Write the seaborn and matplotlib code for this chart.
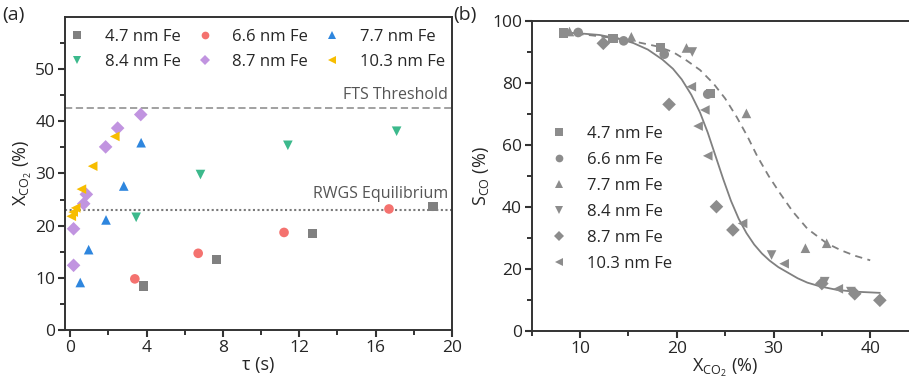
import pandas as pd
import matplotlib
matplotlib.use("Agg")
import matplotlib.pyplot as plt
import seaborn as sns

# ---------- data ----------
sizes = ["4.7 nm Fe", "6.6 nm Fe", "7.7 nm Fe", "8.4 nm Fe", "8.7 nm Fe", "10.3 nm Fe"]

# (a) conversion vs residence time
tau_47 = [3.83, 7.66, 12.7, 19.0]
xco2_47 = [8.4, 13.5, 18.5, 23.7]
tau_66 = [3.38, 6.7, 11.2, 16.7]
xco2_66 = [9.8, 14.7, 18.7, 23.2]
tau_77 = [0.52, 0.96, 1.87, 2.8, 3.71]
xco2_77 = [9.1, 15.4, 21.1, 27.6, 35.9]
tau_84 = [3.45, 6.82, 11.4, 17.1]
xco2_84 = [21.6, 29.8, 35.4, 38.1]
tau_87 = [0.17, 0.17, 0.7, 0.84, 1.85, 2.48, 3.69]
xco2_87 = [12.4, 19.4, 24.2, 26.0, 35.1, 38.7, 41.3]
tau_103 = [0.05, 0.15, 0.28, 0.58, 1.17, 2.33]
xco2_103 = [21.8, 22.6, 23.4, 27.0, 31.4, 37.1]

fts_threshold = 42.5
rwgs_equilibrium = 23.0

# (b) CO selectivity vs conversion
xb_47 = [8.3, 13.4, 18.3, 23.5]
sco_47 = [96.2, 94.4, 91.5, 76.6]
xb_66 = [9.8, 14.5, 18.7, 23.2]
sco_66 = [96.3, 93.6, 89.3, 76.4]
xb_77 = [8.9, 15.3, 21.0, 27.2, 33.3, 35.5]
sco_77 = [96.6, 94.9, 91.3, 70.2, 26.7, 28.3]
xb_84 = [21.6, 29.8, 35.3, 38.0]
sco_84 = [90.0, 24.5, 15.9, 12.7]
xb_87 = [12.4, 19.2, 24.1, 25.8, 35.0, 38.4, 41.0]
sco_87 = [92.8, 73.1, 40.1, 32.6, 15.3, 12.0, 9.9]
xb_103 = [21.5, 22.2, 22.9, 23.2, 26.8, 31.1, 36.7]
sco_103 = [78.8, 66.1, 71.3, 56.5, 34.7, 21.7, 13.6]

# curves
fit_solid_x = [8.3, 10, 12, 14, 15.5, 17, 18.5, 19.6, 20.5, 21.5, 22.4, 23.2, 24.0, 24.8,
               25.6, 26.4, 27.2, 28.0, 28.8, 29.6, 30.5, 31.5, 32.5, 33.5, 34.8, 36.5, 38.3, 41]
fit_solid_y = [96.3, 96.0, 95.5, 94.3, 92.9, 90.8, 87.6, 84.6, 81.2, 76.2, 70.5, 64.0, 56.5, 49.0,
               42.0, 36.2, 31.6, 27.9, 25.0, 22.7, 20.6, 18.8, 17.0, 15.6, 14.4, 13.3, 12.7, 12.3]
fit_dash_x = [8.3, 11.4, 14, 16.2, 18, 19.6, 21, 22.4, 23.8, 25, 26.2, 27.3,
              28.3, 29.5, 30.7, 32, 33.5, 35.5, 37, 38.5, 40]
fit_dash_y = [96.3, 95.3, 94.3, 93.0, 91.8, 90.0, 87.3, 84.2, 79.8, 75.0, 69.0, 62.8,
              56.5, 50.0, 44.3, 38.5, 33.0, 28.3, 26.0, 24.2, 22.8]

colors = ["#808080", "#f4726f", "#2e86de", "#3cb98c", "#c194e0", "#f7bd00"]
markers = ["s", "o", "^", "v", "D", "<"]

df_a = pd.DataFrame({
    "tau": tau_47 + tau_66 + tau_77 + tau_84 + tau_87 + tau_103,
    "x": xco2_47 + xco2_66 + xco2_77 + xco2_84 + xco2_87 + xco2_103,
    "size": [sizes[0]] * len(tau_47) + [sizes[1]] * len(tau_66) + [sizes[2]] * len(tau_77)
            + [sizes[3]] * len(tau_84) + [sizes[4]] * len(tau_87) + [sizes[5]] * len(tau_103),
})
df_b = pd.DataFrame({
    "x": xb_47 + xb_66 + xb_77 + xb_84 + xb_87 + xb_103,
    "s": sco_47 + sco_66 + sco_77 + sco_84 + sco_87 + sco_103,
    "size": [sizes[0]] * len(xb_47) + [sizes[1]] * len(xb_66) + [sizes[2]] * len(xb_77)
            + [sizes[3]] * len(xb_84) + [sizes[4]] * len(xb_87) + [sizes[5]] * len(xb_103),
})

# ---------- style ----------
sns.set_style("ticks")
plt.rcParams["font.family"] = ["Open Sans", "DejaVu Sans"]
plt.rcParams["mathtext.fontset"] = "custom"
plt.rcParams["mathtext.rm"] = "Open Sans"
plt.rcParams["mathtext.it"] = "Open Sans"
plt.rcParams["mathtext.bf"] = "Open Sans"
plt.rcParams["font.size"] = 12
spine_c = "#333333"

fig = plt.figure(figsize=(9.09, 3.80), dpi=100)
ax1 = fig.add_axes([0.0715, 0.1316, 0.4257, 0.8237])
ax2 = fig.add_axes([0.585, 0.129, 0.4255, 0.8157])

# ---------- (a) ----------
sns.scatterplot(data=df_a, x="tau", y="x", hue="size", style="size",
                hue_order=sizes, style_order=sizes,
                palette=dict(zip(sizes, colors)), markers=dict(zip(sizes, markers)),
                s=48, linewidth=0, ax=ax1, zorder=3)
ax1.axhline(fts_threshold, color="#9a9a9a", lw=1.3, ls=(0, (4, 2)), zorder=1)
ax1.axhline(rwgs_equilibrium, color="#7a7a7a", lw=1.5, ls=(0, (1, 1.2)), zorder=1)
ax1.text(19.8, fts_threshold + 1.0, "FTS Threshold", ha="right", va="bottom",
         fontsize=11.5, color="#555555")
ax1.text(19.8, rwgs_equilibrium + 1.6, "RWGS Equilibrium", ha="right", va="bottom",
         fontsize=11.5, color="#555555")
ax1.set_xlim(-0.28, 20)
ax1.set_ylim(0, 60)
ax1.set_xlabel("τ (s)", fontsize=13, labelpad=0)
ax1.set_ylabel(r"X$_{\mathrm{CO_2}}$ (%)", fontsize=13, labelpad=1)
h, l = ax1.get_legend_handles_labels()
order = [0, 3, 1, 4, 2, 5]  # fill rows first
ax1.legend([h[i] for i in order], [l[i] for i in order], ncol=3, frameon=False,
           loc="upper left", bbox_to_anchor=(-0.012, 0.983), borderaxespad=0,
           fontsize=12, handlelength=1.2, handletextpad=1.05, columnspacing=0.85,
           labelspacing=0.56, markerscale=0.8)

# ---------- (b) ----------
sns.scatterplot(data=df_b, x="x", y="s", style="size", style_order=sizes,
                markers=dict(zip(sizes, markers)), color="#8c8c8c",
                s=48, linewidth=0, ax=ax2, zorder=3)
ax2.plot(fit_solid_x, fit_solid_y, color="#808080", lw=1.3, zorder=2)
ax2.plot(fit_dash_x, fit_dash_y, color="#808080", lw=1.3, ls=(0, (4, 3)), zorder=2)
ax2.set_xlim(5, 45)
ax2.set_ylim(0, 100)
ax2.set_xlabel(r"X$_{\mathrm{CO_2}}$ (%)", fontsize=13, labelpad=0)
ax2.set_ylabel(r"S$_{\mathrm{CO}}$ (%)", fontsize=13, labelpad=1)
h, l = ax2.get_legend_handles_labels()
ax2.legend(h, l, frameon=False, loc="upper left", bbox_to_anchor=(0.011, 0.684),
           borderaxespad=0, fontsize=12, handlelength=2.0, handletextpad=0.68,
           labelspacing=0.6, markerscale=0.8)

ax2.spines["right"].set_visible(False)
for ax in (ax1, ax2):
    for sp in ax.spines.values():
        sp.set_color(spine_c)
        sp.set_linewidth(1.4)

# ticks
ax1.set_xticks([0, 4, 8, 12, 16, 20])
ax1.set_xticks([2, 6, 10, 14, 18], minor=True)
ax1.set_yticks([0, 10, 20, 30, 40, 50])
ax1.set_yticks([5, 15, 25, 35, 45, 55], minor=True)
ax2.set_xticks([10, 20, 30, 40])
ax2.set_xticks([5, 15, 25, 35, 45], minor=True)
ax2.set_yticks([0, 20, 40, 60, 80, 100])
ax2.set_yticks([10, 30, 50, 70, 90], minor=True)
for ax in (ax1, ax2):
    ax.tick_params(axis="both", which="major", direction="out", length=5, width=1.5,
                   color=spine_c, labelsize=12.5, pad=2)
    ax.tick_params(axis="both", which="minor", direction="out", length=3.5, width=1.4,
                   color=spine_c)

fig.text(0.003, 0.985, "(a)", fontsize=14, va="top", ha="left")
fig.text(0.499, 0.985, "(b)", fontsize=14, va="top", ha="left")

fig.savefig("out.png", dpi=100)
